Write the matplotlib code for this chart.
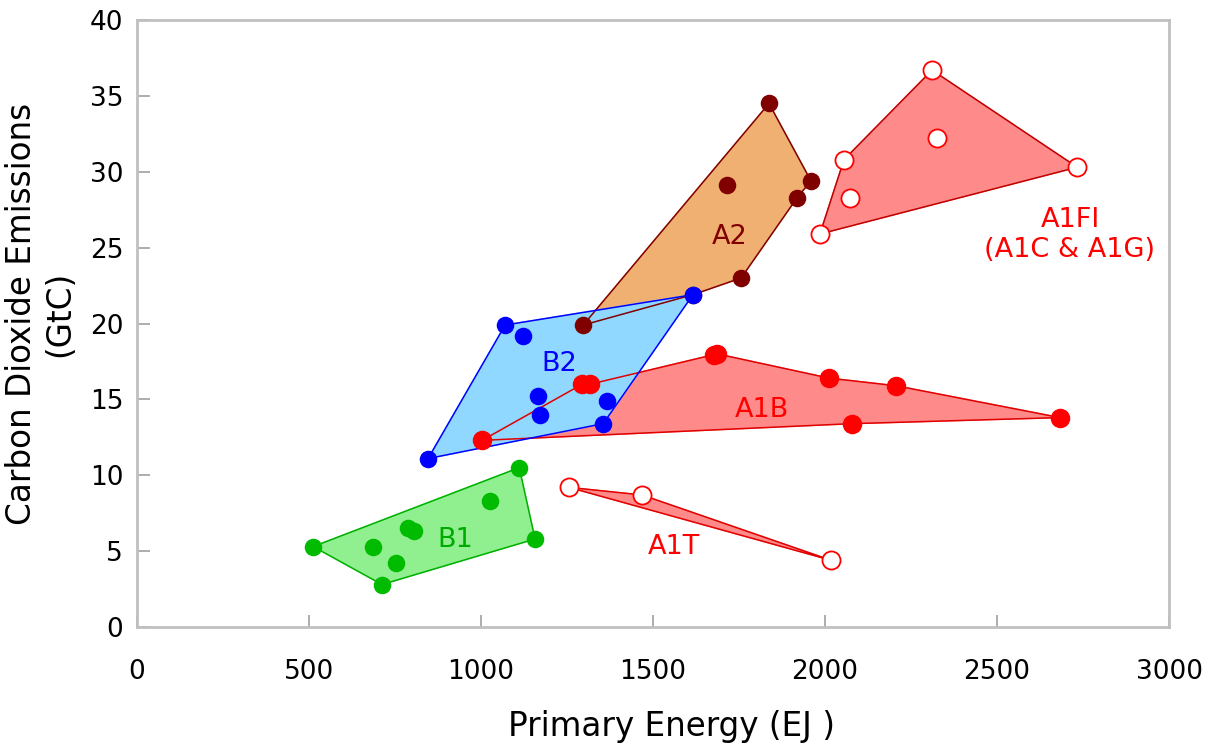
import matplotlib
matplotlib.use("Agg")
import matplotlib.pyplot as plt

# Scenario data (Primary Energy EJ, CO2 emissions GtC)
# outline = polygon vertices in drawing order, inner = other points
a2_outline_x = [1297, 1616, 1756, 1919, 1959, 1837]
a2_outline_y = [19.9, 21.9, 23.0, 28.3, 29.4, 34.5]
a2_inner_x = [1715]
a2_inner_y = [29.1]

b2_outline_x = [846, 1070, 1616, 1355]
b2_outline_y = [11.1, 19.9, 21.9, 13.4]
b2_inner_x = [1122, 1366, 1166, 1172]
b2_inner_y = [19.2, 14.9, 15.2, 14.0]

a1b_outline_x = [1003, 1294, 1317, 1686, 2012, 2206, 2683, 2078]
a1b_outline_y = [12.3, 16.0, 16.0, 18.0, 16.4, 15.9, 13.8, 13.4]
a1b_inner_x = [1676]
a1b_inner_y = [17.9]

b1_outline_x = [512, 1111, 1157, 712]
b1_outline_y = [5.3, 10.5, 5.8, 2.8]
b1_inner_x = [686, 753, 788, 805, 1026]
b1_inner_y = [5.3, 4.2, 6.5, 6.3, 8.3]

a1t_outline_x = [1256, 1468, 2017]
a1t_outline_y = [9.2, 8.7, 4.4]

a1fi_outline_x = [1985, 2055, 2311, 2733]
a1fi_outline_y = [25.9, 30.8, 36.7, 30.3]
a1fi_inner_x = [2326, 2073]
a1fi_inner_y = [32.2, 28.3]

plt.rcParams["font.family"] = ["DejaVu Sans"]

fig = plt.figure(figsize=(12.15, 7.45), dpi=100)
ax = fig.add_axes([0.1128, 0.1584, 0.8494, 0.8147])

# fills, bottom to top
ax.fill(a2_outline_x, a2_outline_y, color="#f0b072", zorder=1)
ax.fill(a1b_outline_x, a1b_outline_y, color="#ff8a8a", zorder=1.1)
ax.fill(a1fi_outline_x, a1fi_outline_y, color="#ff8a8a", zorder=1.1)
ax.fill(a1t_outline_x, a1t_outline_y, color="#ff8a8a", zorder=1.1)
ax.fill(b1_outline_x, b1_outline_y, color="#90f090", zorder=1.2)
ax.fill(b2_outline_x, b2_outline_y, color="#90d8ff", zorder=1.3)

# outlines
def outline(xs, ys, c, z):
    ax.plot(list(xs) + [xs[0]], list(ys) + [ys[0]], color=c, lw=1.1, zorder=z)

outline(a2_outline_x, a2_outline_y, "#800000", 2)
outline(a1b_outline_x, a1b_outline_y, "#e00000", 2.1)
outline(a1fi_outline_x, a1fi_outline_y, "#c00000", 2.1)
outline(a1t_outline_x, a1t_outline_y, "#e00000", 2.1)
outline(b1_outline_x, b1_outline_y, "#00b000", 2.2)
outline(b2_outline_x, b2_outline_y, "#0000ff", 2.3)

# points
ms = 135
ax.scatter(a2_outline_x + a2_inner_x, a2_outline_y + a2_inner_y, s=ms, color="#800000", zorder=3)
ax.scatter(b2_outline_x + b2_inner_x, b2_outline_y + b2_inner_y, s=ms, color="#0000ff", zorder=3)
ax.scatter(a1b_outline_x + a1b_inner_x, a1b_outline_y + a1b_inner_y, s=170, color="#ff0000", zorder=3)
ax.scatter(b1_outline_x + b1_inner_x, b1_outline_y + b1_inner_y, s=ms, color="#00bb00", zorder=3)
ax.scatter(a1t_outline_x, a1t_outline_y, s=170, facecolor="white", edgecolor="#ff0000", lw=1.3, zorder=3)
ax.scatter(a1fi_outline_x + a1fi_inner_x, a1fi_outline_y + a1fi_inner_y, s=170,
           facecolor="white", edgecolor="#ff0000", lw=1.3, zorder=3)

# labels
lab = dict(fontsize=19.5, ha="center", va="center", zorder=4)
ax.text(1724, 25.7, "A2", color="#800000", **lab)
ax.text(1228, 17.3, "B2", color="#0000ff", **lab)
ax.text(1816, 14.3, "A1B", color="#ff0000", **lab)
ax.text(924, 5.75, "B1", color="#00aa00", **lab)
ax.text(1561, 5.3, "A1T", color="#ff0000", **lab)
ax.text(2712, 25.85, "A1FI\n(A1C & A1G)", color="#ff0000", linespacing=1.2, **lab)

ax.set_xlim(0, 3000)
ax.set_ylim(0, 40)
ax.set_xticks(range(0, 3001, 500))
ax.set_yticks(range(0, 41, 5))
for s in ax.spines.values():
    s.set_color("#c0c0c0")
    s.set_linewidth(2)
ax.tick_params(direction="in", length=9, width=1.2, color="#a0a0a0", labelsize=19)
ax.tick_params(axis="x", pad=23)
ax.tick_params(axis="y", pad=10)

fig.text(671 / 1215, 1 - 736 / 745, "Primary Energy (EJ )", fontsize=23.5,
         ha="center", va="baseline")
fig.text(41 / 1215, 1 - 314 / 745, "Carbon Dioxide Emissions\n(GtC)", fontsize=23.5,
         ha="center", va="center", rotation=90, multialignment="center", linespacing=1.2)

fig.savefig("out.png", dpi=100)
